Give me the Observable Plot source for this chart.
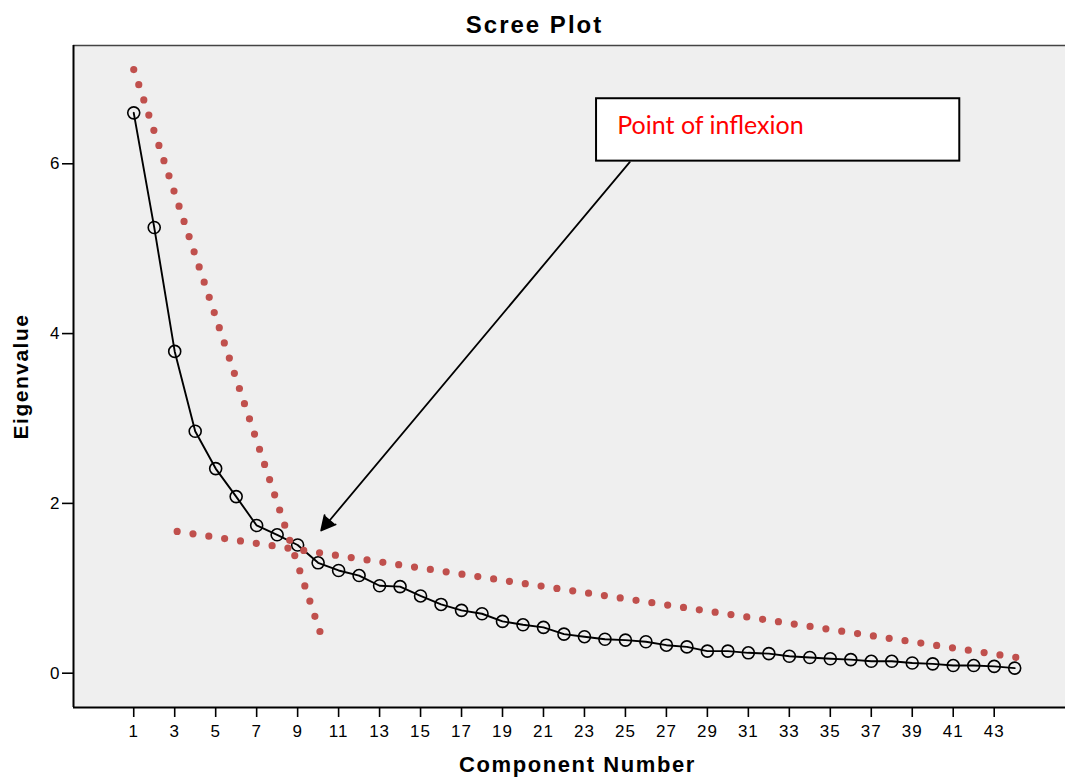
<!DOCTYPE html>
<html>
<head>
<meta charset="utf-8">
<script src="https://cdn.jsdelivr.net/npm/d3@7"></script>
<script src="https://cdn.jsdelivr.net/npm/@observablehq/plot@0.6"></script>
<style>
  html, body { margin: 0; padding: 0; background: #fff; overflow: hidden; }
</style>
</head>
<body>
<div id="chart"></div>
<script>
// Scree plot: eigenvalue of each extracted component
const components = [1, 2, 3, 4, 5, 6, 7, 8, 9, 10, 11, 12, 13, 14, 15, 16, 17, 18, 19, 20, 21, 22,
  23, 24, 25, 26, 27, 28, 29, 30, 31, 32, 33, 34, 35, 36, 37, 38, 39, 40, 41, 42, 43, 44];
const eigenvalues = [6.60, 5.25, 3.79, 2.85, 2.41, 2.08, 1.74, 1.63, 1.51, 1.30, 1.21, 1.15, 1.03, 1.02,
  0.91, 0.81, 0.74, 0.70, 0.61, 0.57, 0.54, 0.46, 0.43, 0.40, 0.39, 0.37, 0.33, 0.31, 0.26, 0.26,
  0.24, 0.23, 0.20, 0.185, 0.17, 0.16, 0.14, 0.14, 0.12, 0.11, 0.09, 0.09, 0.08, 0.06];

// Axis ticks
const xTicks = [1, 3, 5, 7, 9, 11, 13, 15, 17, 19, 21, 23, 25, 27, 29, 31, 33, 35, 37, 39, 41, 43];
const yTicks = [0, 2, 4, 6];

// Hand-drawn trend lines through the steep and the flat part of the curve
const steepFitX = [1, 10.09];
const steepFitY = [7.11, 0.49];
const flatFitX = [3.12, 44.1];
const flatFitY = [1.67, 0.185];

// Callout pointing at the elbow
const calloutText = "Point of inflexion";
const calloutBoxX = [23.59, 41.32];
const calloutBoxY = [6.031, 6.766];
const calloutTextAt = [24.6, 6.345];
const arrowFrom = [25.21, 6.019];
const arrowTo = [10.15, 1.681];

// Titles
const chartTitle = "Scree Plot";
const xTitle = "Component Number";
const yTitle = "Eigenvalue";

// Visible ranges of the axes
const xDomain = [-1.94, 46.48];
const yDomain = [-0.404, 7.393];

const scree = components.map((c, i) => ({component: c, eigenvalue: eigenvalues[i]}));
const steepFit = steepFitX.map((x, i) => ({x, y: steepFitY[i]}));
const flatFit = flatFitX.map((x, i) => ({x, y: flatFitY[i]}));
const callout = [{
  x1: calloutBoxX[0], x2: calloutBoxX[1], y1: calloutBoxY[0], y2: calloutBoxY[1],
  tx: calloutTextAt[0], ty: calloutTextAt[1], text: calloutText
}];
const arrow = [{x1: arrowFrom[0], y1: arrowFrom[1], x2: arrowTo[0], y2: arrowTo[1]}];

const trendStyle = {
  x: "x", y: "y", stroke: "#c0504d", strokeWidth: 7.2,
  strokeLinecap: "round", strokeDasharray: "0 16"
};

const chart = Plot.plot({
  width: 1065,
  height: 781,
  marginLeft: 73,
  marginRight: 0,
  marginTop: 45,
  marginBottom: 74,
  style: {
    fontFamily: "'Liberation Sans', Arial, sans-serif",
    fontSize: "17px",
    color: "#000",
    background: "#fff"
  },
  x: {domain: xDomain, axis: null},
  y: {domain: yDomain, axis: null},
  marks: [
    Plot.frame({fill: "#efefef", stroke: null}),
    Plot.ruleY([yDomain[1]], {stroke: "#444", strokeWidth: 1.5}),
    Plot.ruleX([xDomain[0]], {stroke: "#000", strokeWidth: 2}),
    Plot.ruleY([yDomain[0]], {stroke: "#000", strokeWidth: 2}),
    Plot.axisX({ticks: xTicks, tickSize: 10, tickPadding: 7, label: null, strokeWidth: 1.6, fontSize: 17}),
    Plot.axisY({ticks: yTicks, tickSize: 11, tickPadding: 2, label: null, strokeWidth: 1.6, fontSize: 17}),

    // Eigenvalue curve
    Plot.line(scree, {x: "component", y: "eigenvalue", stroke: "#000", strokeWidth: 1.9}),
    Plot.dot(scree, {x: "component", y: "eigenvalue", r: 6, stroke: "#000", strokeWidth: 1.6, fill: "none"}),

    // Dotted trend lines
    Plot.line(steepFit, trendStyle),
    Plot.line(flatFit, trendStyle),

    // Callout box, label and arrow
    Plot.rect(callout, {x1: "x1", x2: "x2", y1: "y1", y2: "y2", fill: "#fff", stroke: "#000", strokeWidth: 2}),
    Plot.text(callout, {
      x: "tx", y: "ty", text: "text", fill: "#ff0000", fontSize: 25,
      fontFamily: "Lato, 'Open Sans', sans-serif", textAnchor: "start", lineAnchor: "bottom"
    }),
    Plot.arrow(arrow, {
      x1: "x1", y1: "y1", x2: "x2", y2: "y2", stroke: "#000", fill: "#000",
      strokeWidth: 1.8, headLength: 13, headAngle: 55
    }),

    // Title and axis titles
    Plot.text([chartTitle], {
      text: d => d, frameAnchor: "top", dx: -35, dy: -13, lineAnchor: "bottom",
      fontSize: 24, fontWeight: "bold"
    }),
    Plot.text([xTitle], {
      text: d => d, frameAnchor: "bottom", dx: 8, dy: 64, lineAnchor: "bottom",
      fontSize: 22, fontWeight: "bold"
    }),
    Plot.text([yTitle], {
      text: d => d, frameAnchor: "left", textAnchor: "middle", dx: -45.5, dy: 0, rotate: -90,
      lineAnchor: "bottom", fontSize: 21, fontWeight: "bold"
    })
  ]
});

// Spacing of the label lettering
const spacing = new Map([[chartTitle, "2px"], [xTitle, "1.6px"], [yTitle, "1.5px"]]);
d3.select(chart).selectAll("text").each(function() {
  const t = this.textContent;
  if (spacing.has(t)) this.style.letterSpacing = spacing.get(t);
  else if (/^\d+$/.test(t)) this.style.letterSpacing = "1px";
});

document.getElementById("chart").appendChild(chart);
</script>
</body>
</html>
